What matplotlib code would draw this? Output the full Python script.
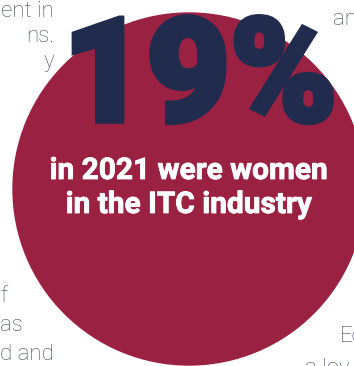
import matplotlib.pyplot as plt
import matplotlib.patheffects as pe
from matplotlib.patches import Circle

# headline figure
share_pct = 19
year = 2021
caption_lines = [f"in {year} were women", "in the ITC industry"]

# fragments of surrounding body text that peek in at the edges
left_top_lines = ["ent in", "ns.", "y"]
left_bottom_lines = ["f", "as", "d and"]
right_top_lines = ["an"]
right_bottom_lines = ["Ec", "a lov"]

crimson = "#9b2142"
navy = "#202b4e"
grey = "#464b5c"

fig = plt.figure(figsize=(3.54, 3.66), dpi=100)
ax = fig.add_axes([0, 0, 1, 1])
ax.set_xlim(0, 354)
ax.set_ylim(366, 0)
ax.set_aspect("equal")
ax.axis("off")

ax.add_patch(Circle((189, 189), 176, color=crimson, zorder=1))

# big number, thickened with a stroke to get the black weight
ax.text(200, 121, f"{share_pct}%", ha="center", va="baseline",
        fontsize=104, fontweight="black", family="Roboto", color=navy, zorder=3,
        path_effects=[pe.Stroke(linewidth=4, foreground=navy, joinstyle="miter"),
                      pe.Normal()])

# caption inside circle
for i, line in enumerate(caption_lines):
    ax.text(189, 179 + i * 34, line, ha="center", va="baseline",
            fontsize=21.5, fontweight="bold", family="Roboto", color="white", zorder=3,
            path_effects=[pe.Stroke(linewidth=0.6, foreground="white"), pe.Normal()])

body = dict(fontsize=16, fontweight="light", family="Roboto", color=grey, va="baseline")

for i, line in enumerate(left_top_lines):
    ax.text(54, 17 + i * 25, line, ha="right", **body)
for i, line in enumerate(left_bottom_lines):
    ax.text(0, 302 + i * 29, line, ha="left", **body)

ax.text(333, 25, right_top_lines[0], ha="left", **body)
ax.text(340, 342, right_bottom_lines[0], ha="left", **body)
ax.text(305, 374, right_bottom_lines[1], ha="left", **body)

plt.savefig("out.png", dpi=100)
plt.close()
